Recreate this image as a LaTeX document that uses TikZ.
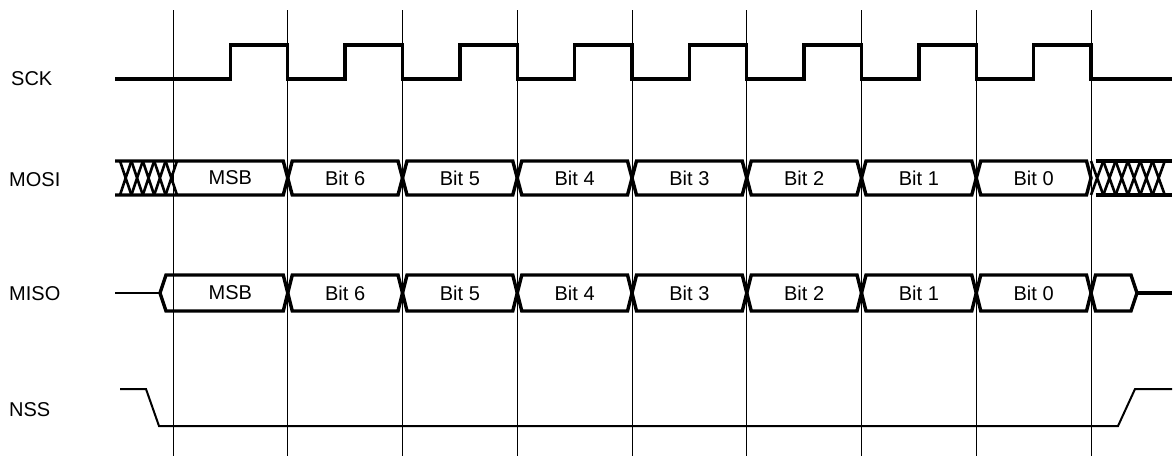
\documentclass[tikz,border=0pt]{standalone}
\usepackage{fontspec}
\setmainfont{Liberation Sans}
\begin{document}
\begin{tikzpicture}[x=1pt,y=-1pt,
  sig/.style={line width=3.4pt},
  gridline/.style={line width=1pt},
  thinsig/.style={line width=2pt},
  hatch/.style={line width=2.6pt},
  lbl/.style={font=\fontsize{20}{22}\selectfont, inner sep=0pt},
  sname/.style={lbl, anchor=west}]
\useasboundingbox (0,0) rectangle (1174,456);
\def\P{114.75}
% grid lines
\foreach \i in {0,...,8} \draw[gridline] ({173+\P*\i},10) -- ({173+\P*\i},456);
% signal names
\node[sname] (sck) at (11,79) {SCK};
\node[sname] (mosi) at (9,180) {MOSI};
\node[sname] (miso) at (9,294) {MISO};
\node[sname] (nss) at (9,410) {NSS};
% SCK
\draw[sig] (115,79) \foreach \i in {0,...,7} { -- ({173+\P*\i+57.4},79) -- ({173+\P*\i+57.4},45) -- ({173+\P*(\i+1)},45) -- ({173+\P*(\i+1)},79) } -- (1172,79);
% MOSI
\draw[sig] (115,161) -- ({173+\P-4.5},161) -- ({173+\P},178) -- ({173+\P-4.5},195) -- (115,195);
\foreach \i in {1,...,7}
  \draw[sig] ({173+\P*\i},178) -- ({173+\P*\i+4.5},161) -- ({173+\P*(\i+1)-4.5},161) -- ({173+\P*(\i+1)},178) -- ({173+\P*(\i+1)-4.5},195) -- ({173+\P*\i+4.5},195) -- cycle;
\draw[sig] (1095.5,161) -- (1172,161) (1095.5,195) -- (1172,195);
\foreach \k in {0,...,4}
  \draw[hatch] ({120+11.4*\k},161) -- ({131.4+11.4*\k},195) ({120+11.4*\k},195) -- ({131.4+11.4*\k},161);
\foreach \k in {0,...,5}
  \draw[hatch] ({1091+12.3*\k},161) -- ({1103.3+12.3*\k},195) ({1091+12.3*\k},195) -- ({1103.3+12.3*\k},161);
% MISO
\draw[thinsig] (115,293) -- (160,293);
\draw[sig] (160,293) -- (166,275) -- ({173+\P-4.5},275) -- ({173+\P},293) -- ({173+\P-4.5},311) -- (166,311) -- cycle;
\foreach \i in {1,...,7}
  \draw[sig] ({173+\P*\i},293) -- ({173+\P*\i+4.5},275) -- ({173+\P*(\i+1)-4.5},275) -- ({173+\P*(\i+1)},293) -- ({173+\P*(\i+1)-4.5},311) -- ({173+\P*\i+4.5},311) -- cycle;
\draw[sig] (1091,293) -- (1095.5,275) -- (1131,275) -- (1137,293) -- (1131,311) -- (1095.5,311) -- cycle;
\draw[sig] (1137,293) -- (1172,293);
% bit labels
\foreach \i/\t in {0/MSB,1/Bit 6,2/Bit 5,3/Bit 4,4/Bit 3,5/Bit 2,6/Bit 1,7/Bit 0} {
  \node[lbl] (mosib\i) at ({173+\P*\i+\P/2},178) {\t};
  \node[lbl] (misob\i) at ({173+\P*\i+\P/2},293) {\t};
}
% NSS
\draw[thinsig] (120,389) -- (146,389) -- (159,426) -- (1118,426) -- (1135,389) -- (1172,389);
\end{tikzpicture}
\end{document}
